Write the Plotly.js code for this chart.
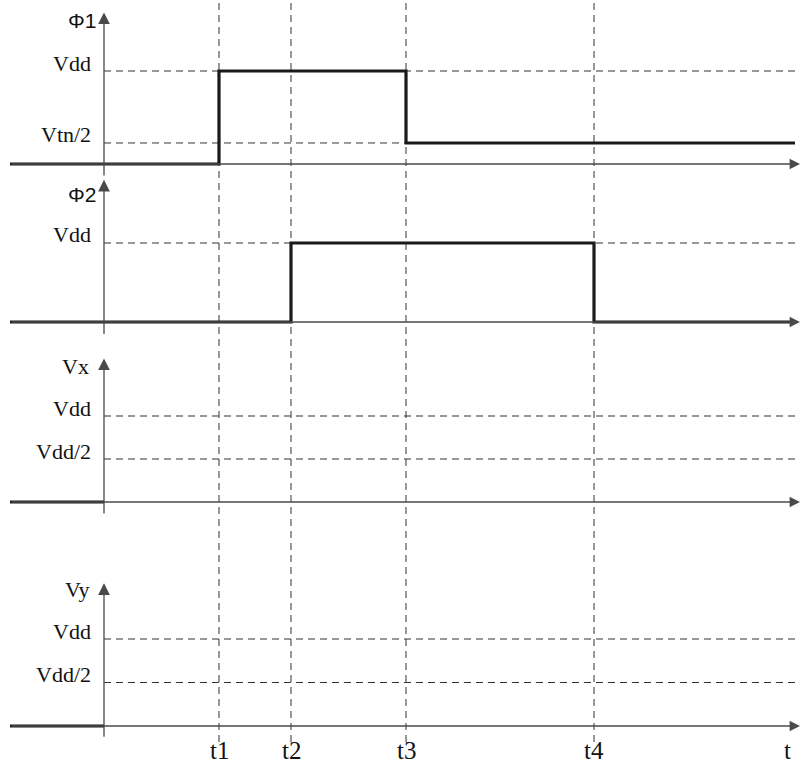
<!DOCTYPE html>
<html>
<head>
<meta charset="utf-8">
<script src="https://cdn.plot.ly/plotly-3.0.1.min.js"></script>
<style>html,body{margin:0;padding:0;background:#fff}</style>
</head>
<body>
<div id="chart" style="width:800px;height:768px"></div>
<script>
// ---- data (time in arbitrary units, voltage normalised to Vdd = 1) ----
const tStart = -0.94;
const tEnd = 6.91;
const timeMarks = [1.15, 1.87, 3.02, 4.90];
const timeLabels = ['t1', 't2', 't3', 't4'];
const timeAxisLabel = 't';
const timeAxisLabelPos = 6.83;

const signalNames = ['Φ1', 'Φ2', 'Vx', 'Vy'];

const phi1T = [tStart, 1.15, 1.15, 3.02, 3.02, tEnd];
const phi1V = [0, 0, 1, 1, 0.226, 0.226];
const phi2T = [tStart, 1.87, 1.87, 4.90, 4.90, tEnd];
const phi2V = [0, 0, 1, 1, 0, 0];
const vxT = [tStart, 0];
const vxV = [0, 0];
const vyT = [tStart, 0];
const vyV = [0, 0];

const phi1Levels = ['Vdd', 'Vtn/2'];
const phi1LevelVals = [1, 0.226];
const phi2Levels = ['Vdd'];
const phi2LevelVals = [1];
const vxLevels = ['Vdd', 'Vdd/2'];
const vxLevelVals = [1, 0.5];
const vyLevels = ['Vdd', 'Vdd/2'];
const vyLevelVals = [1, 0.5];

// ---- layout geometry ----
const W = 800, H = 768;
const pxPerUnitX = 100, originPx = 104;
const xRange = [(0 - originPx) / pxPerUnitX, (W - originPx) / pxPerUnitX];

const panels = [
  {name: signalNames[0], t: phi1T, v: phi1V, levels: phi1Levels, lv: phi1LevelVals, base: 164, vdd: 71, lo: -0.15, tip: 1.63, nameY: 1.54, nameFont: 'sans'},
  {name: signalNames[1], t: phi2T, v: phi2V, levels: phi2Levels, lv: phi2LevelVals, base: 322, vdd: 243, lo: -0.18, tip: 1.80, nameY: 1.62, nameFont: 'sans'},
  {name: signalNames[2], t: vxT, v: vxV, levels: vxLevels, lv: vxLevelVals, base: 502, vdd: 416, lo: -0.16, tip: 1.67, nameY: 1.57, nameFont: 'serif'},
  {name: signalNames[3], t: vyT, v: vyV, levels: vyLevels, lv: vyLevelVals, base: 726, vdd: 639, lo: -0.15, tip: 1.64, nameY: 1.57, nameFont: 'serif'}
];

const serif = 'Liberation Serif, Times New Roman, serif';
const sans = 'Liberation Sans, Arial, sans-serif';
const sigColor = '#1a1a1a';
const axColor = '#4a4a4a';
const dashColor = '#333';

const traces = [];
const annotations = [];
const shapes = [];
const layout = {
  width: W, height: H,
  margin: {l: 0, r: 0, t: 0, b: 0},
  paper_bgcolor: '#fff', plot_bgcolor: 'rgba(0,0,0,0)',
  showlegend: false,
  xaxis: {range: xRange, domain: [0, 1], visible: false, fixedrange: true}
};

panels.forEach((p, i) => {
  const yName = i === 0 ? 'y' : 'y' + (i + 1);
  const yKey = i === 0 ? 'yaxis' : 'yaxis' + (i + 1);
  const ppu = p.base - p.vdd;
  const hi = Math.min(1.9, (p.base - 1) / ppu);
  const bottomPx = p.base - p.lo * ppu;
  const topPx = p.base - hi * ppu;
  layout[yKey] = {
    range: [p.lo, hi],
    domain: [(H - bottomPx) / H, (H - topPx) / H],
    visible: false, fixedrange: true, anchor: 'x'
  };

  // dashed level lines
  p.lv.forEach((val, k) => {
    traces.push({
      x: [0, tEnd + 0.03], y: [val, val], xaxis: 'x', yaxis: yName,
      mode: 'lines', line: {color: dashColor, width: 1, dash: '7px,5px'},
      hoverinfo: 'skip'
    });
    annotations.push({
      x: 93 / W, xref: 'paper', xanchor: 'right',
      y: val, yref: yName, yanchor: 'middle', yshift: 8,
      text: p.levels[k], showarrow: false,
      font: {family: serif, size: 22, color: '#111'}
    });
  });

  // horizontal axis with arrow
  annotations.push({
    x: tEnd + 0.05, y: 0, xref: 'x', yref: yName,
    ax: tStart, ay: 0, axref: 'x', ayref: yName,
    text: '', showarrow: true, arrowhead: 2, arrowsize: 1.6, arrowwidth: 1.3, arrowcolor: axColor
  });
  // vertical axis with arrow
  annotations.push({
    x: 0, y: p.tip, xref: 'x', yref: yName,
    ax: 0, ay: p.lo + 0.01, axref: 'x', ayref: yName,
    text: '', showarrow: true, arrowhead: 2, arrowsize: 1.8, arrowwidth: 1.3, arrowcolor: axColor
  });

  // signal name
  annotations.push({
    x: (p.nameFont === 'sans' ? 98 : 91) / W, xref: 'paper', xanchor: 'right',
    y: p.nameY, yref: yName, yanchor: 'middle',
    text: p.name, showarrow: false,
    font: {family: p.nameFont === 'sans' ? sans : serif, size: p.nameFont === 'sans' ? 21 : 22, color: '#111'}
  });

  // signal waveform
  traces.push({
    x: p.t, y: p.v, xaxis: 'x', yaxis: yName,
    mode: 'lines', line: {color: sigColor, width: 3.2, shape: 'linear'},
    hoverinfo: 'skip'
  });
});

// vertical dashed time markers and labels
timeMarks.forEach((tm, k) => {
  shapes.push({
    type: 'line', xref: 'x', yref: 'paper',
    x0: tm, x1: tm, y0: (H - 742) / H, y1: 1,
    line: {color: dashColor, width: 1, dash: '7px,5px'}, layer: 'below'
  });
  annotations.push({
    x: tm, xref: 'x', xanchor: 'center',
    y: (H - 750) / H, yref: 'paper', yanchor: 'middle',
    text: timeLabels[k], showarrow: false,
    font: {family: serif, size: 25, color: '#111'}
  });
});
annotations.push({
  x: timeAxisLabelPos, xref: 'x', xanchor: 'center',
  y: (H - 750) / H, yref: 'paper', yanchor: 'middle',
  text: timeAxisLabel, showarrow: false,
  font: {family: serif, size: 25, color: '#111'}
});

layout.annotations = annotations;
layout.shapes = shapes;

Plotly.newPlot('chart', traces, layout, {staticPlot: true, displayModeBar: false});
</script>
</body>
</html>
